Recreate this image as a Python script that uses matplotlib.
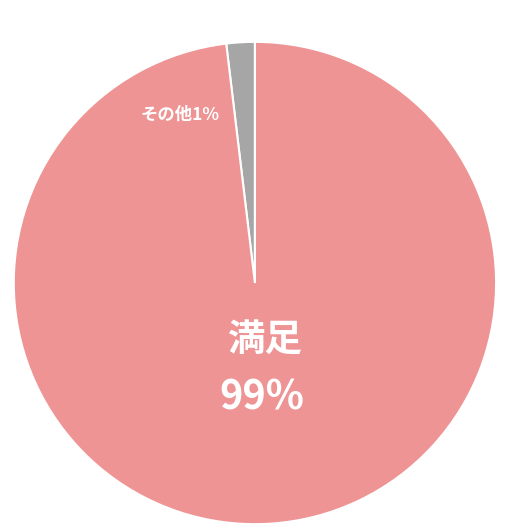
import matplotlib
matplotlib.use("Agg")
import matplotlib.pyplot as plt

plt.rcParams['font.family'] = ['Noto Sans CJK JP', 'DejaVu Sans']

labels = ["その他", "満足"]
values = [1.9, 98.1]
pct_text = ["1%", "99%"]
colors = ["#a6a6a6", "#ef9494"]

fig = plt.figure(figsize=(5.3, 5.3), dpi=100)
ax = fig.add_axes([0.026, 0.011, 0.91, 0.91])
ax.pie(values, colors=colors, startangle=90, counterclock=True,
       wedgeprops=dict(edgecolor="white", linewidth=1.5))
ax.set_xlim(-1, 1)
ax.set_ylim(-1, 1)
ax.set_aspect("equal")
ax.axis("off")

ax.text(0.04, -0.235, labels[1], ha="center", va="center", color="white",
        fontsize=27, fontweight="bold")
ax.text(0.03, -0.475, pct_text[1], ha="center", va="center", color="white",
        fontsize=28.5, fontweight="bold")
ax.text(-0.31, 0.697, labels[0] + pct_text[0], ha="center", va="center",
        color="white", fontsize=12.5, fontweight="bold")

fig.savefig("out.png", dpi=100, facecolor="white")
